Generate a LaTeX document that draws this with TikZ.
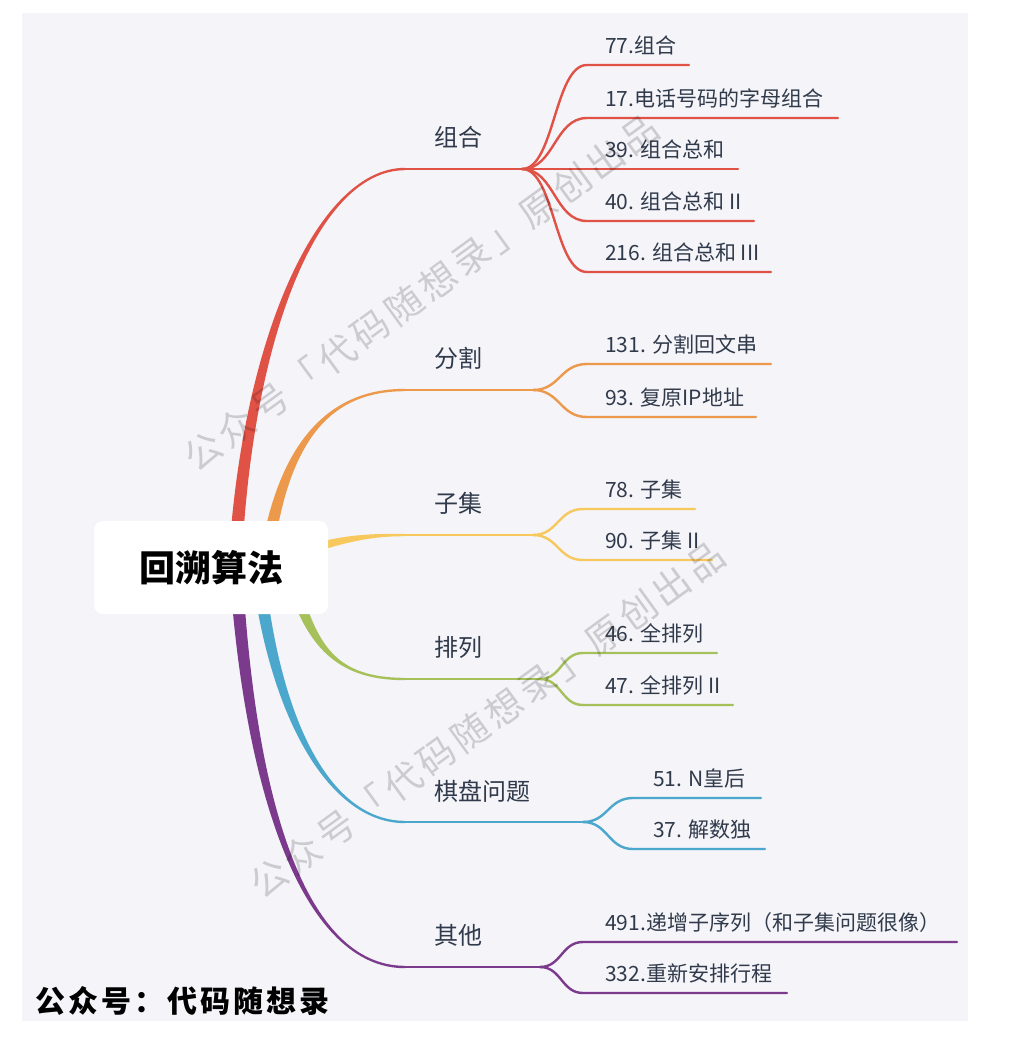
\documentclass[tikz,border=0pt]{standalone}
\usepackage{fontspec}
\setmainfont{Noto Sans CJK SC}
\usepackage{tikz}
\usetikzlibrary{positioning,calc}
\usepackage{xcolor}
\definecolor{paper}{HTML}{F4F4F9}
\definecolor{ink}{HTML}{303A4A}
\definecolor{cRed}{HTML}{E05246}
\definecolor{cOrg}{HTML}{EC994B}
\definecolor{cYel}{HTML}{F7C85C}
\definecolor{cGrn}{HTML}{A6C05A}
\definecolor{cBlu}{HTML}{4BA8CC}
\definecolor{cPur}{HTML}{7B3A8C}

% tapered main branch: colour, start, ctrl1, ctrl2, knee, up(1)/down(-1)
\newcommand{\limb}[6]{%
  \fill[#1] ([xshift=-6.5pt]#2) .. controls ([xshift=-5pt]#3) and ([yshift={(#6)*1.2pt}]#4) .. ([yshift={(#6)*1.2pt}]#5)
    -- ([yshift={-(#6)*1.2pt}]#5) .. controls ([yshift={-(#6)*1.2pt}]#4) and ([xshift=5pt]#3) .. ([xshift=6.5pt]#2) -- cycle;}
% thin sub branch: colour, split, shoulder, end
\newcommand{\twig}[4]{%
  \draw[twig,#1] (#2) .. controls ($(#2)!0.5!(#3|-#2)$) and ($(#3)!0.5!(#2|-#3)$) .. (#3) -- (#4);}

\begin{document}
\begin{tikzpicture}[x=1pt,y=-1pt,
  topic/.style={anchor=west,inner sep=0pt,text=ink,font=\fontsize{24}{28}\selectfont},
  leaf/.style={anchor=west,inner sep=0pt,text=ink,font=\fontsize{21}{25}\selectfont},
  twig/.style={line width=2.4pt,line cap=round},
  rootbox/.style={fill=white,rounded corners=9pt,minimum width=234pt,minimum height=93pt,
    inner sep=0pt,font=\fontsize{36}{40}\selectfont\bfseries},
  wmark/.style={rotate=36,text=black,opacity=0.16,font=\fontsize{37}{40}\selectfont\addfontfeature{LetterSpace=12}}]
\useasboundingbox (0,0) rectangle (1017,1037);
\fill[white] (0,0) rectangle (1017,1037);
\fill[paper] (22,13) rectangle (968,1021);

% 组合
\coordinate (zh-a) at (236,548);
\coordinate (zh-b) at (250,330);
\coordinate (zh-c) at (320,169);
\coordinate (zh-k) at (405,169);
\coordinate (zh-s) at (522,169);
\limb{cRed}{zh-a}{zh-b}{zh-c}{zh-k}{1}
\draw[twig,cRed] (zh-k) -- (zh-s);
\node[topic] (zh) at (434,137) {组合};
\coordinate (zh1) at (587,65);  \coordinate (zh1e) at (689,65);
\coordinate (zh2) at (587,118); \coordinate (zh2e) at (838,118);
\coordinate (zh3) at (587,169); \coordinate (zh3e) at (738,169);
\coordinate (zh4) at (587,221); \coordinate (zh4e) at (754,221);
\coordinate (zh5) at (587,272); \coordinate (zh5e) at (771,272);
\twig{cRed}{zh-s}{zh1}{zh1e}
\twig{cRed}{zh-s}{zh2}{zh2e}
\twig{cRed}{zh-s}{zh3}{zh3e}
\twig{cRed}{zh-s}{zh4}{zh4e}
\twig{cRed}{zh-s}{zh5}{zh5e}
\node[leaf] (l77) at (605,45.5) {77.组合};
\node[leaf] (l17) at (605,98.5) {17.电话号码的字母组合};
\node[leaf] (l39) at (605,149.5) {39. 组合总和};
\node[leaf] (l40) at (605,201.5) {40. 组合总和 II};
\node[leaf] (l216) at (605,252.5) {216. 组合总和 III};

% 分割
\coordinate (fg-a) at (266,560);
\coordinate (fg-b) at (283,440);
\coordinate (fg-c) at (330,390);
\coordinate (fg-k) at (405,390);
\coordinate (fg-s) at (533,390);
\limb{cOrg}{fg-a}{fg-b}{fg-c}{fg-k}{1}
\draw[twig,cOrg] (fg-k) -- (fg-s);
\node[topic] (fg) at (434,358) {分割};
\coordinate (fg1) at (587,364); \coordinate (fg1e) at (771,364);
\coordinate (fg2) at (587,417); \coordinate (fg2e) at (756,417);
\twig{cOrg}{fg-s}{fg1}{fg1e}
\twig{cOrg}{fg-s}{fg2}{fg2e}
\node[leaf] (l131) at (605,344.5) {131. 分割回文串};
\node[leaf] (l93) at (605,397.5) {93. 复原IP地址};

% 子集
\coordinate (zj-a) at (300,552);
\coordinate (zj-b) at (345,538);
\coordinate (zj-c) at (370,535);
\coordinate (zj-k) at (405,535);
\coordinate (zj-s) at (533,535);
\fill[cYel] ([yshift=5pt]zj-a) .. controls ([yshift=4pt]zj-b) and ([yshift=1.2pt]zj-c) .. ([yshift=1.2pt]zj-k)
  -- ([yshift=-1.2pt]zj-k) .. controls ([yshift=-1.2pt]zj-c) and ([yshift=-4pt]zj-b) .. ([yshift=-5pt]zj-a) -- cycle;
\draw[twig,cYel] (zj-k) -- (zj-s);
\node[topic] (zj) at (434,503) {子集};
\coordinate (zj1) at (583,509); \coordinate (zj1e) at (695,509);
\coordinate (zj2) at (583,560); \coordinate (zj2e) at (712,560);
\twig{cYel}{zj-s}{zj1}{zj1e}
\twig{cYel}{zj-s}{zj2}{zj2e}
\node[leaf] (l78) at (605,489.5) {78. 子集};
\node[leaf] (l90) at (605,540.5) {90. 子集 II};

% 排列
\coordinate (pl-a) at (292,580);
\coordinate (pl-b) at (312,645);
\coordinate (pl-c) at (335,679);
\coordinate (pl-k) at (405,679);
\coordinate (pl-s) at (540,679);
\limb{cGrn}{pl-a}{pl-b}{pl-c}{pl-k}{-1}
\draw[twig,cGrn] (pl-k) -- (pl-s);
\node[topic] (pl) at (434,647) {排列};
\coordinate (pl1) at (583,653); \coordinate (pl1e) at (717,653);
\coordinate (pl2) at (583,705); \coordinate (pl2e) at (733,705);
\twig{cGrn}{pl-s}{pl1}{pl1e}
\twig{cGrn}{pl-s}{pl2}{pl2e}
\node[leaf] (l46) at (605,633.5) {46. 全排列};
\node[leaf] (l47) at (605,685.5) {47. 全排列 II};

% 棋盘问题
\coordinate (qp-a) at (258,570);
\coordinate (qp-b) at (275,720);
\coordinate (qp-c) at (330,822);
\coordinate (qp-k) at (405,822);
\coordinate (qp-s) at (583,822);
\limb{cBlu}{qp-a}{qp-b}{qp-c}{qp-k}{-1}
\draw[twig,cBlu] (qp-k) -- (qp-s);
\node[topic] (qp) at (434,791) {棋盘问题};
\coordinate (qp1) at (633,798); \coordinate (qp1e) at (761,798);
\coordinate (qp2) at (633,849); \coordinate (qp2e) at (765,849);
\twig{cBlu}{qp-s}{qp1}{qp1e}
\twig{cBlu}{qp-s}{qp2}{qp2e}
\node[leaf] (l51) at (653,778.5) {51. N皇后};
\node[leaf] (l37) at (653,829.5) {37. 解数独};

% 其他
\coordinate (qt-a) at (236,570);
\coordinate (qt-b) at (250,800);
\coordinate (qt-c) at (305,967);
\coordinate (qt-k) at (405,967);
\coordinate (qt-s) at (540,967);
\limb{cPur}{qt-a}{qt-b}{qt-c}{qt-k}{-1}
\draw[twig,cPur] (qt-k) -- (qt-s);
\node[topic] (qt) at (434,935) {其他};
\coordinate (qt1) at (583,942); \coordinate (qt1e) at (957,942);
\coordinate (qt2) at (583,993); \coordinate (qt2e) at (787,993);
\twig{cPur}{qt-s}{qt1}{qt1e}
\twig{cPur}{qt-s}{qt2}{qt2e}
\node[leaf] (l491) at (605,922.5) {491.递增子序列（和子集问题很像）};
\node[leaf] (l332) at (605,973.5) {332.重新安排行程};

% centre
\node[rootbox] (root) at (211,567.5) {回溯算法};

% watermarks and signature
\node[wmark] (wm1) at (421,293) {公众号「代码随想录」原创出品};
\node[wmark] (wm2) at (487,720) {公众号「代码随想录」原创出品};
\node[anchor=west,inner sep=0pt,font=\fontsize{30}{34}\selectfont\bfseries\addfontfeature{LetterSpace=10}] (sig) at (35,1001) {公众号：代码随想录};
\end{tikzpicture}
\end{document}
